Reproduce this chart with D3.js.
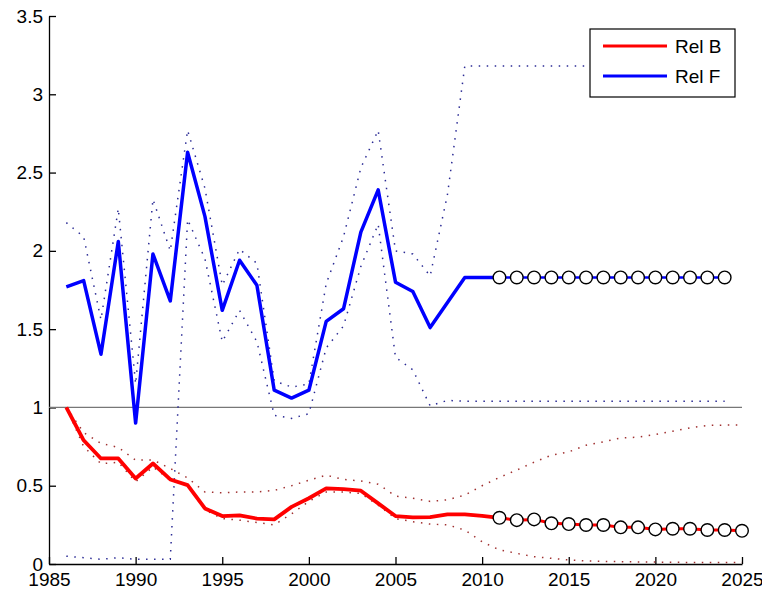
<!DOCTYPE html>
<html>
<head>
<meta charset="utf-8">
<script src="https://cdn.jsdelivr.net/npm/d3@7"></script>
<style>
  body { margin: 0; background: #fff; }
  svg { display: block; }
  text { font-family: "Liberation Sans", Arial, sans-serif; }
</style>
</head>
<body>
<div id="container"></div>
<script>
/* CONSTANTS AND GLOBALS */
const width = 762,
  height = 596,
  margin = { top: 16, bottom: 32, left: 49, right: 20 };

/* DATA */
const yearsHist = [1986, 1987, 1988, 1989, 1990, 1991, 1992, 1993, 1994, 1995, 1996, 1997, 1998,
  1999, 2000, 2001, 2002, 2003, 2004, 2005, 2006, 2007, 2008, 2009, 2010, 2011];
const yearsProjB = [2011, 2012, 2013, 2014, 2015, 2016, 2017, 2018, 2019, 2020, 2021, 2022, 2023, 2024, 2025];
const yearsProjF = [2011, 2012, 2013, 2014, 2015, 2016, 2017, 2018, 2019, 2020, 2021, 2022, 2023, 2024];
const yearsBandB = yearsHist.concat(yearsProjB.slice(1));
const yearsBandF = yearsHist.concat(yearsProjF.slice(1));

const relB = [1.0, 0.79, 0.674, 0.674, 0.546, 0.642, 0.54, 0.504, 0.355, 0.306, 0.31, 0.29, 0.285,
  0.365, 0.42, 0.483, 0.478, 0.468, 0.387, 0.306, 0.298, 0.30, 0.317, 0.317, 0.308, 0.295];
const relBProj = [0.295, 0.28, 0.285, 0.26, 0.255, 0.249, 0.249, 0.234, 0.234, 0.221, 0.225, 0.225, 0.217, 0.217, 0.212];
const relBHi = [1.0, 0.84, 0.77, 0.745, 0.663, 0.665, 0.61, 0.55, 0.46, 0.455, 0.46, 0.46, 0.47,
  0.50, 0.535, 0.567, 0.54, 0.53, 0.51, 0.434, 0.42, 0.40, 0.41, 0.44, 0.50, 0.553,
  0.60, 0.65, 0.695, 0.716, 0.759, 0.78, 0.805, 0.81, 0.827, 0.848, 0.87, 0.885, 0.887, 0.887];
const relBLo = [1.0, 0.75, 0.64, 0.65, 0.525, 0.62, 0.535, 0.50, 0.345, 0.29, 0.28, 0.265, 0.25,
  0.32, 0.40, 0.46, 0.46, 0.45, 0.376, 0.29, 0.27, 0.255, 0.25, 0.217, 0.142, 0.09,
  0.068, 0.047, 0.036, 0.026, 0.02, 0.017, 0.015, 0.013, 0.012, 0.011, 0.01, 0.01, 0.01, 0.01];

const relF = [1.77, 1.81, 1.34, 2.06, 0.90, 1.98, 1.68, 2.63, 2.22, 1.62, 1.94, 1.78, 1.11,
  1.06, 1.11, 1.55, 1.63, 2.12, 2.39, 1.80, 1.74, 1.51, 1.67, 1.83, 1.83, 1.83];
const relFProj = [1.83, 1.83, 1.83, 1.83, 1.83, 1.83, 1.83, 1.83, 1.83, 1.83, 1.83, 1.83, 1.83, 1.83];
const relFHi = [2.18, 2.09, 1.56, 2.27, 1.15, 2.33, 2.0, 2.77, 2.4, 1.78, 2.01, 1.92, 1.17,
  1.13, 1.15, 1.79, 2.09, 2.53, 2.77, 2.0, 1.98, 1.84, 2.36, 3.18, 3.18, 3.18,
  3.18, 3.18, 3.18, 3.18, 3.18, 3.18, 3.18, 3.18, 3.18, 3.18, 3.18, 3.18, 3.18];
const relFLo = [0.05, 0.04, 0.03, 0.04, 0.03, 0.03, 0.03, 2.2, 1.95, 1.42, 1.62, 1.42, 0.95,
  0.93, 0.96, 1.38, 1.52, 1.9, 2.17, 1.32, 1.24, 1.01, 1.045, 1.04, 1.04, 1.04,
  1.04, 1.04, 1.04, 1.04, 1.04, 1.04, 1.04, 1.04, 1.04, 1.04, 1.04, 1.04, 1.04];

const xTicks = [1985, 1990, 1995, 2000, 2005, 2010, 2015, 2020, 2025];
const yTicks = [0, 0.5, 1, 1.5, 2, 2.5, 3, 3.5];
const legendLabels = ["Rel B", "Rel F"];
const refValue = 1;

const RED = "#ff0000", BLUE = "#0000ff";

// SCALES
const xScale = d3.scaleLinear()
  .domain([1985, 2025])
  .range([margin.left, width - margin.right]);

const yScale = d3.scaleLinear()
  .domain([0, 3.5])
  .range([height - margin.bottom, margin.top]);

// CREATE SVG ELEMENT
const svg = d3.select("#container")
  .append("svg")
  .attr("width", width)
  .attr("height", height);

// AXES
const xAxis = d3.axisBottom(xScale)
  .tickValues(xTicks)
  .tickFormat(d => String(d))
  .tickSizeInner(-7)
  .tickSizeOuter(0)
  .tickPadding(9);

const yAxis = d3.axisLeft(yScale)
  .tickValues(yTicks)
  .tickFormat(d => String(d))
  .tickSizeInner(-7)
  .tickSizeOuter(0)
  .tickPadding(6);

const gx = svg.append("g")
  .attr("transform", `translate(0,${height - margin.bottom})`)
  .call(xAxis);
const gy = svg.append("g")
  .attr("transform", `translate(${margin.left},0)`)
  .call(yAxis);

[gx, gy].forEach(g => {
  g.selectAll("path, line").attr("stroke", "#000").attr("stroke-width", 1.3);
  g.selectAll("text").attr("fill", "#000").style("font-size", "19px");
});

// REFERENCE LINE
svg.append("line")
  .attr("x1", xScale(1985)).attr("x2", xScale(2025))
  .attr("y1", yScale(refValue)).attr("y2", yScale(refValue))
  .attr("stroke", "#777")
  .attr("stroke-width", 1.3);

// LINE GENERATOR
const lineGen = d3.line()
  .x(d => xScale(d[0]))
  .y(d => yScale(d[1]));

const zip = (xs, ys) => xs.map((x, i) => [x, ys[i]]);

// DOTTED BANDS
const bands = [
  { pts: zip(yearsBandF, relFHi), color: "#2b2b95" },
  { pts: zip(yearsBandF, relFLo), color: "#2b2b95" },
  { pts: zip(yearsBandB, relBHi), color: "#a03030" },
  { pts: zip(yearsBandB, relBLo), color: "#a03030" }
];

svg.selectAll(".band")
  .data(bands)
  .join("path")
  .attr("class", "band")
  .attr("fill", "none")
  .attr("stroke", d => d.color)
  .attr("stroke-width", 1.5)
  .attr("stroke-dasharray", "1.5,6.5")
  .attr("d", d => lineGen(d.pts));

// MAIN LINES
const mains = [
  { pts: zip(yearsHist, relB), color: RED, w: 3.8 },
  { pts: zip(yearsHist, relF), color: BLUE, w: 3.5 },
  { pts: zip(yearsProjB, relBProj), color: RED, w: 3 },
  { pts: zip(yearsProjF, relFProj), color: BLUE, w: 2.5 }
];

svg.selectAll(".main")
  .data(mains)
  .join("path")
  .attr("class", "main")
  .attr("fill", "none")
  .attr("stroke", d => d.color)
  .attr("stroke-width", d => d.w)
  .attr("stroke-linejoin", "round")
  .attr("d", d => lineGen(d.pts));

// PROJECTION MARKERS
const markers = zip(yearsProjF, relFProj).concat(zip(yearsProjB, relBProj));

svg.selectAll(".mk")
  .data(markers)
  .join("circle")
  .attr("class", "mk")
  .attr("cx", d => xScale(d[0]))
  .attr("cy", d => yScale(d[1]))
  .attr("r", 6.3)
  .attr("fill", "#fff")
  .attr("stroke", "#000")
  .attr("stroke-width", 1.4);

// LEGEND
const legend = svg.append("g").attr("transform", "translate(590,29)");
legend.append("rect")
  .attr("width", 145).attr("height", 68)
  .attr("fill", "#fff")
  .attr("stroke", "#000")
  .attr("stroke-width", 1.2);

const legendColors = [RED, BLUE];
legend.selectAll(".lg")
  .data(legendLabels)
  .join("g")
  .attr("class", "lg")
  .attr("transform", (d, i) => `translate(0,${17 + i * 30})`)
  .each(function (d, i) {
    const g = d3.select(this);
    g.append("line")
      .attr("x1", 13).attr("x2", 77)
      .attr("stroke", legendColors[i])
      .attr("stroke-width", 3);
    g.append("text")
      .attr("x", 85).attr("y", 7)
      .style("font-size", "19px")
      .text(d);
  });
</script>
</body>
</html>
